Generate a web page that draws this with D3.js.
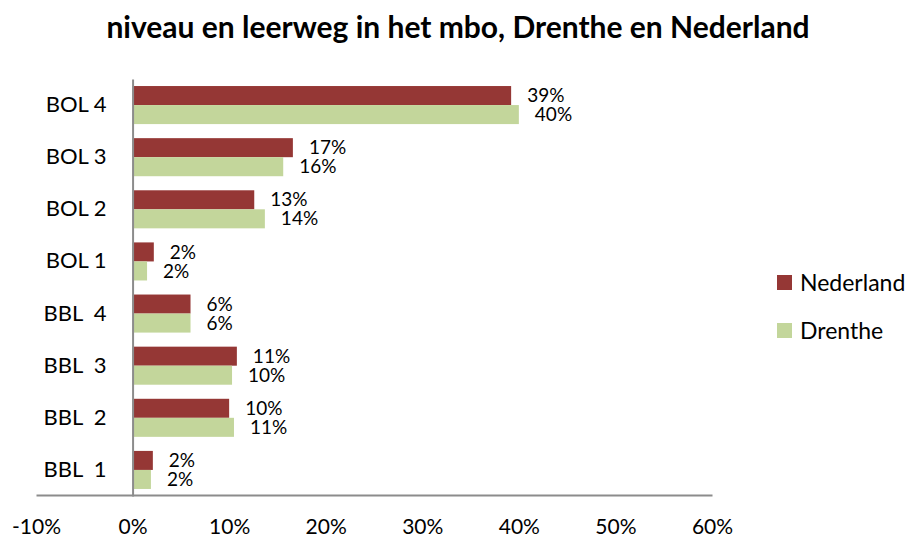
<!DOCTYPE html>
<html>
<head>
<meta charset="utf-8">
<script src="https://cdn.jsdelivr.net/npm/d3@7"></script>
<style>
  body { margin: 0; background: #fff; }
  text { font-family: Lato, "Open Sans", sans-serif; fill: #000; }
</style>
</head>
<body>
<svg id="chart" width="912" height="540"></svg>
<script>
// categories top to bottom
var categories = ["BOL 4", "BOL 3", "BOL 2", "BOL 1", "BBL  4", "BBL  3", "BBL  2", "BBL  1"]
var nederland = [39.2, 16.6, 12.6, 2.2, 6.0, 10.8, 10.0, 2.1]
var drenthe = [40.0, 15.6, 13.7, 1.5, 6.0, 10.3, 10.5, 1.9]
var nederlandLabels = ["39%", "17%", "13%", "2%", "6%", "11%", "10%", "2%"]
var drentheLabels = ["40%", "16%", "14%", "2%", "6%", "10%", "11%", "2%"]
var xTicks = [-10, 0, 10, 20, 30, 40, 50, 60]
var seriesNames = ["Nederland", "Drenthe"]
var seriesColors = ["#953735", "#c3d69b"]

var svg = d3.select("#chart")

var x = d3.scaleLinear().domain([-10, 60]).range([36, 712])
var y = d3.scaleBand().domain(categories).range([79, 496])
  .paddingInner(0.27).paddingOuter(0.135)
var sub = d3.scaleBand().domain(seriesNames).range([0, y.bandwidth()])

// title
svg.append("text")
  .attr("x", 458).attr("y", 38)
  .attr("text-anchor", "middle")
  .style("font-weight", "bold")
  .style("font-size", "30px")
  .text("niveau en leerweg in het mbo, Drenthe en Nederland")

// bars
var series = [nederland, drenthe]
var labels = [nederlandLabels, drentheLabels]
series.forEach(function(vals, s){
  var g = svg.append("g")
  g.selectAll("rect")
    .data(vals)
    .enter()
    .append("rect")
    .attr("x", x(0))
    .attr("y", function(d, i){ return y(categories[i]) + sub(seriesNames[s]) })
    .attr("width", function(d){ return x(d) - x(0) })
    .attr("height", sub.bandwidth())
    .attr("fill", seriesColors[s])

  g.selectAll("text")
    .data(vals)
    .enter()
    .append("text")
    .attr("x", function(d){ return x(d) + 16 })
    .attr("y", function(d, i){ return y(categories[i]) + sub(seriesNames[s]) + sub.bandwidth() / 2 })
    .attr("dy", "0.35em")
    .style("font-size", "19px")
    .text(function(d, i){ return labels[s][i] })
})

// x axis (line + labels, no tick marks)
var xAxis = svg.append("g")
  .attr("transform", "translate(0,495)")
  .call(d3.axisBottom(x).tickValues(xTicks).tickSize(0).tickPadding(24)
    .tickFormat(function(d){ return d + "%" }))
xAxis.select(".domain").attr("stroke", "#8c8c8c").attr("stroke-width", 2)
xAxis.selectAll("text").style("font-size", "21px").attr("font-family", null)

// y axis at 0%
var yAxis = svg.append("g")
  .attr("transform", "translate(" + x(0) + ",0)")
  .call(d3.axisLeft(y).tickSize(0).tickPadding(26))
yAxis.select(".domain").attr("stroke", "#8c8c8c").attr("stroke-width", 2)
yAxis.selectAll("text").style("font-size", "22px").style("white-space", "pre").attr("font-family", null)

// legend
var legend = svg.append("g")
  .selectAll("g")
  .data(seriesNames)
  .enter()
  .append("g")
  .attr("transform", function(d, i){ return "translate(777," + (275 + i * 48) + ")" })
legend.append("rect")
  .attr("width", 15).attr("height", 15)
  .attr("fill", function(d, i){ return seriesColors[i] })
legend.append("text")
  .attr("x", 23).attr("y", 7.5).attr("dy", "0.35em")
  .style("font-size", "23px")
  .text(function(d){ return d })
</script>
</body>
</html>
